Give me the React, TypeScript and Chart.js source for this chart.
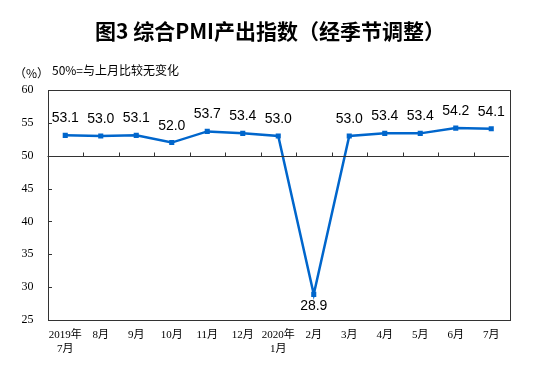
import React, { useEffect, useRef } from "react";
import { Chart, registerables } from "chart.js";

Chart.register(...registerables);

const categories: (string | string[])[] = [
  ["2019年", "7月"], "8月", "9月", "10月", "11月", "12月",
  ["2020年", "1月"], "2月", "3月", "4月", "5月", "6月", "7月",
];
const pmiValues = [53.1, 53.0, 53.1, 52.0, 53.7, 53.4, 53.0, 28.9, 53.0, 53.4, 53.4, 54.2, 54.1];
const yTicks = [25, 30, 35, 40, 45, 50, 55, 60];
const titleText = "图3 综合PMI产出指数（经季节调整）";
const unitText = "（%）";
const noteText = "50%=与上月比较无变化";
const baseline = 50;

const LINE_COLOR = "#0066CC";

const decorPlugin = {
  id: "decor",
  afterDraw(chart: any) {
    const ctx = chart.ctx;
    const { left, right, top, bottom } = chart.chartArea;
    const x = chart.scales.x;
    const y = chart.scales.y;
    ctx.save();
    // box
    ctx.strokeStyle = "#333";
    ctx.lineWidth = 1;
    ctx.strokeRect(Math.round(left) + 0.5, Math.round(top) + 0.5, Math.round(right - left), Math.round(bottom - top));
    // baseline
    const by = Math.round(y.getPixelForValue(baseline)) + 0.5;
    ctx.beginPath();
    ctx.moveTo(left, by);
    ctx.lineTo(right, by);
    // category ticks on baseline (upward)
    for (let i = 1; i < categories.length; i++) {
      const px = Math.round((x.getPixelForValue(i - 1) + x.getPixelForValue(i)) / 2) + 0.5;
      ctx.moveTo(px, by);
      ctx.lineTo(px, by - 4);
    }
    // y ticks inward
    yTicks.forEach((v) => {
      const py = Math.round(y.getPixelForValue(v)) + 0.5;
      ctx.moveTo(Math.round(left) + 0.5, py);
      ctx.lineTo(Math.round(left) + 4, py);
    });
    ctx.stroke();

    // data labels
    ctx.fillStyle = "#000";
    ctx.font = "14px 'Liberation Sans', Arial, sans-serif";
    ctx.textAlign = "center";
    const meta = chart.getDatasetMeta(0);
    meta.data.forEach((pt: any, i: number) => {
      const v = pmiValues[i];
      const label = v.toFixed(1);
      if (v < baseline) {
        ctx.textBaseline = "top";
        ctx.fillText(label, pt.x, pt.y + 5);
      } else {
        ctx.textBaseline = "alphabetic";
        ctx.fillText(label, pt.x, pt.y - 13);
      }
    });

    // title
    ctx.font = "bold 21px 'Noto Sans CJK SC', sans-serif";
    ctx.textAlign = "center";
    ctx.textBaseline = "middle";
    ctx.fillText(titleText, 270, 31);

    // unit and note
    ctx.font = "12px 'Noto Sans CJK SC', sans-serif";
    ctx.textAlign = "left";
    ctx.fillText(unitText, 14, 73);
    ctx.fillText(noteText, 52, 70);
    ctx.restore();
  },
};

export default function App() {
  const ref = useRef<HTMLCanvasElement | null>(null);
  useEffect(() => {
    if (!ref.current) return;
    const chart = new Chart(ref.current, {
      type: "line",
      data: {
        labels: categories,
        datasets: [
          {
            data: pmiValues,
            borderColor: LINE_COLOR,
            backgroundColor: LINE_COLOR,
            borderWidth: 2.5,
            pointStyle: "rect",
            pointRadius: 3.6,
            pointBorderWidth: 0,
            tension: 0,
          },
        ],
      },
      options: {
        responsive: false,
        animation: false,
        layout: { padding: { top: 90, right: 44, left: 0, bottom: 0 } },
        plugins: { legend: { display: false }, tooltip: { enabled: false }, title: { display: false } },
        scales: {
          x: {
            type: "category",
            offset: true,
            grid: { display: false, drawTicks: false },
            border: { display: false },
            ticks: {
              color: "#000",
              padding: 8,
              maxRotation: 0,
              autoSkip: false,
              font: { size: 11, family: "'Liberation Serif', 'Noto Sans CJK SC', serif", lineHeight: 1.27 },
            },
            afterFit: (s: any) => { s.height = 71; },
          },
          y: {
            min: 25,
            max: 60,
            grid: { display: false, drawTicks: false },
            border: { display: false },
            ticks: {
              stepSize: 5,
              color: "#000",
              padding: 14,
              font: { size: 12, family: "'Liberation Serif', serif" },
            },
            afterFit: (s: any) => { s.width = 47.5; },
          },
        },
      },
      plugins: [decorPlugin],
    });
    return () => chart.destroy();
  }, []);
  return (
    <div style={{ position: "absolute", left: 0, top: 0, width: 553, height: 391, background: "#fff" }}>
      <canvas ref={ref} width={553} height={391} style={{ width: 553, height: 391 }} />
    </div>
  );
}
